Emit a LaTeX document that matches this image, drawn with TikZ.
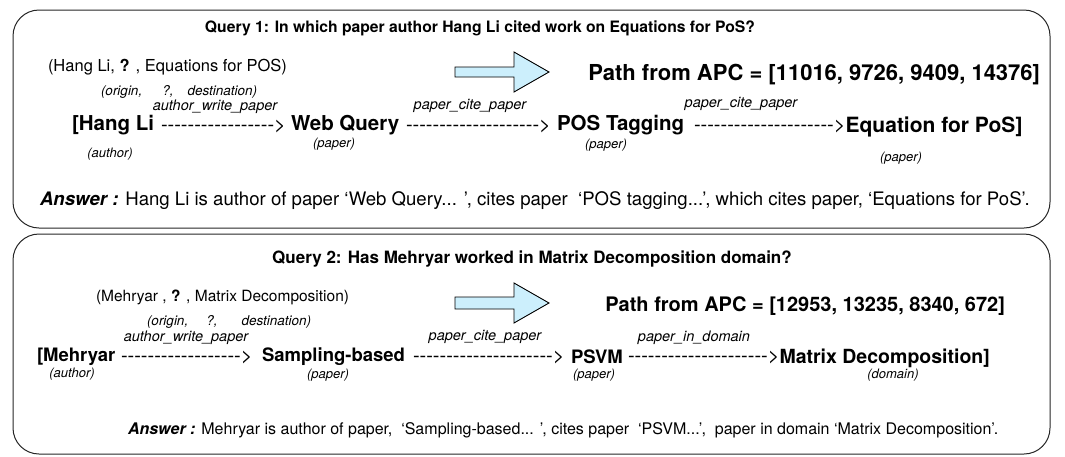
\documentclass[tikz,border=0pt]{standalone}
\usepackage{fontspec}
\setmainfont{TeX Gyre Heros}
\newfontfamily\dashfont{TeX Gyre Heros}[Ligatures=TeXOff]
\newcommand\dashrun[1]{\foreach \k in {1,...,#1}{-}>}
\begin{document}
\begin{tikzpicture}[x=1pt,y=-1pt,
  every node/.style={inner sep=0pt,outer sep=0pt},
  panel/.style={draw=black!85,line width=1pt,rounded corners=26pt},
  qtitle/.style={font=\fontsize{#1}{18}\selectfont\bfseries},
  triple/.style={font=\fontsize{#1}{18}\selectfont,anchor=west},
  roles/.style={font=\fontsize{13.5}{15}\selectfont\itshape,anchor=west},
  pathtxt/.style={font=\fontsize{#1}{22}\selectfont\bfseries,anchor=east},
  ent/.style={font=\fontsize{#1}{22}\selectfont\bfseries,anchor=west},
  dashes/.style={font=\fontsize{20}{22}\dashfont,anchor=west},
  rel/.style={font=\fontsize{14.5}{16}\selectfont\itshape},
  etype/.style={font=\fontsize{13}{14}\selectfont\itshape},
  answer/.style={font=\fontsize{#1}{20}\selectfont,anchor=west},
  bigarrow/.style={draw=black,line width=0.9pt,fill=cyan!20,line join=miter}
]
\useasboundingbox (0,0) rectangle (1065,456);

% ---------- panel 1 ----------
\draw[panel] (13,10) rectangle (1050,228);
\node[qtitle=15.7] (t1) at (480,28) {Query 1: In which paper author Hang Li cited work on Equations for PoS?};
\node[triple=16.5] (q1) at (48,67) {(Hang Li, \textbf{?} , Equations for POS)};
\node[roles] (r1) at (101,92) {(origin,\hspace{20pt}?,\hspace{14pt}destination)};
\draw[bigarrow] (455,67) -- (514,67) -- (514,52) -- (549,72) -- (514,92) -- (514,77) -- (455,77) -- cycle;
\node[pathtxt=22] (p1) at (1040,75) {Path from APC = [11016, 9726, 9409, 14376]};

\node[ent=20.5] (a1) at (72,125) {[Hang Li};
\node[etype] (a1t) at (110,154) {(author)};
\node[dashes] (d11) at (161,126) {\dashrun{17}};
\node[rel] (l11) at (215,107) {author\_write\_paper};
\node[ent=20.5] (b1) at (291,125) {Web Query};
\node[etype] (b1t) at (334,144) {(paper)};
\node[dashes] (d12) at (406,126) {\dashrun{20}};
\node[rel] (l12) at (470,106) {paper\_cite\_paper};
\node[ent=20.5] (c1) at (557,125) {POS Tagging};
\node[etype] (c1t) at (606,145) {(paper)};
\node[dashes] (d13) at (694,126) {\dashrun{21}};
\node[rel] (l13) at (741,104) {paper\_cite\_paper};
\node[ent=21,anchor=west] (e1) at ([yshift=-1pt]d13.east) {Equation for PoS]};
\node[etype] (e1t) at (901,158) {(paper)};

\node[answer=18.6] (ans1) at (40,201) {\textbf{\itshape Answer :} Hang Li is author of paper ‘Web Query... ’, cites paper\ \ ‘POS tagging...’, which cites paper, ‘Equations for PoS’.};

% ---------- panel 2 ----------
\draw[panel] (13,234) rectangle (1050,454);
\node[qtitle=17] (t2) at (532,259) {Query 2: Has Mehryar worked in Matrix Decomposition domain?};
\node[triple=15.5] (q2) at (96,297) {(Mehryar , \textbf{?} , Matrix Decomposition)};
\node[roles] (r2) at (147,322) {(origin,\hspace{18pt}?,\hspace{24pt}destination)};
\draw[bigarrow] (455,297) -- (514,297) -- (514,283) -- (549,303) -- (514,323) -- (514,309) -- (455,309) -- cycle;
\node[pathtxt=20] (p2) at (1005,306) {Path from APC = [12953, 13235, 8340, 672]};

\node[ent=18.5] (a2) at (37,357) {[Mehryar};
\node[etype] (a2t) at (72,374) {(author)};
\node[dashes] (d21) at (121,357) {\dashrun{18}};
\node[rel] (l21) at (186,338) {author\_write\_paper};
\node[ent=18.5] (b2) at (262,357) {Sampling-based};
\node[etype] (b2t) at (328,375) {(paper)};
\node[dashes] (d22) at (413,357) {\dashrun{21}};
\node[rel] (l22) at (485,337) {paper\_cite\_paper};
\node[ent=18.5] (c2) at (571,357) {PSVM};
\node[etype] (c2t) at (594,375) {(paper)};
\node[dashes] (d23) at (628,357) {\dashrun{21}};
\node[rel] (l23) at (694,338) {paper\_in\_domain};
\node[ent=19.5,anchor=west] (e2) at ([yshift=-1pt]d23.east) {Matrix Decomposition]};
\node[etype] (e2t) at (893,375) {(domain)};

\node[answer=16] (ans2) at (128,430) {\textbf{\itshape Answer :} Mehryar is author of paper,\ \ ‘Sampling-based... ’, cites paper\ \ ‘PSVM...’,\ \ paper in domain ‘Matrix Decomposition’.};
\end{tikzpicture}
\end{document}
